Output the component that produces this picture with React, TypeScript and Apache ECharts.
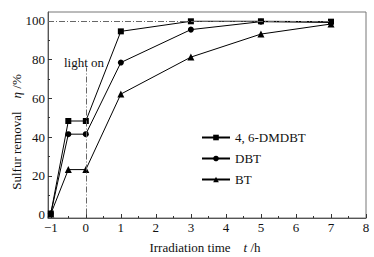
import React, { useEffect, useRef } from "react";
import * as echarts from "echarts";

const times = [-1, -0.5, 0, 1, 3, 5, 7];
const dmdbt = [0.5, 48.3, 48.3, 94.6, 99.8, 99.8, 99.6];
const dbt = [0.5, 41.5, 41.5, 78.5, 95.5, 99.6, 99.2];
const bt = [0.3, 23.2, 23.2, 62.2, 81.3, 93.2, 98.4];
const seriesNames = ["4, 6-DMDBT", "DBT", "BT"];
const xMajorTicks = [-1, 0, 1, 2, 3, 4, 5, 6, 7, 8];
const xMinorTicks = [-0.5, 0.5, 1.5, 2.5, 3.5, 4.5, 5.5, 6.5, 7.5];
const yMajorTicks = [0, 20, 40, 60, 80, 100];
const yMinorTicks = [10, 30, 50, 70, 90];

const FONT = "Liberation Serif";

export default function App() {
  const ref = useRef<HTMLDivElement>(null);
  useEffect(() => {
    if (!ref.current) return;
    const chart = echarts.init(ref.current, undefined, { renderer: "svg" });
    const pair = (vals: number[]) => times.map((t, i) => [t, vals[i]]);
    const xMin = -1.08, xMax = 8, yMin = -1.8, yMax = 104.6;
    const lineColor = "#000";
    const mkSeries = (name: string, vals: number[], symbol: string, size: number, extra: any = {}) => ({
      name,
      type: "line",
      data: pair(vals),
      symbol,
      symbolSize: size,
      showSymbol: true,
      lineStyle: { color: lineColor, width: 1 },
      itemStyle: { color: lineColor },
      ...extra,
    });
    chart.setOption({
      animation: false,
      textStyle: { fontFamily: FONT },
      grid: { left: 48, top: 12, width: 318, height: 206, show: true, borderColor: "#777", borderWidth: 1, backgroundColor: "transparent" },
      xAxis: [
        {
          type: "value", min: xMin, max: xMax,
          axisLine: { show: true, onZero: false, lineStyle: { color: "#555" } },
          axisTick: { show: true, inside: true, length: 4, customValues: xMajorTicks, lineStyle: { color: "#333" } },
          axisLabel: { customValues: xMajorTicks, color: "#111", fontSize: 13, fontFamily: FONT, margin: 3, formatter: (v: number) => (v < 0 ? "\u2212" + Math.abs(v) : String(v)) },
          splitLine: { show: false },
        },
        {
          type: "value", min: xMin, max: xMax, position: "bottom",
          axisLine: { show: false, onZero: false },
          axisTick: { show: true, inside: true, length: 2, customValues: xMinorTicks, lineStyle: { color: "#333" } },
          axisLabel: { show: false },
          splitLine: { show: false },
        },
      ],
      yAxis: [
        {
          type: "value", min: yMin, max: yMax,
          axisLine: { show: true, onZero: false, lineStyle: { color: "#555" } },
          axisTick: { show: true, inside: true, length: 4, customValues: yMajorTicks, lineStyle: { color: "#333" } },
          axisLabel: { customValues: yMajorTicks, color: "#111", fontSize: 13, fontFamily: FONT, margin: 3 },
          splitLine: { show: false },
        },
        {
          type: "value", min: yMin, max: yMax, position: "left",
          axisLine: { show: false, onZero: false },
          axisTick: { show: true, inside: true, length: 2, customValues: yMinorTicks, lineStyle: { color: "#333" } },
          axisLabel: { show: false },
          splitLine: { show: false },
        },
      ],
      legend: {
        left: 196, top: 126, orient: "vertical",
        itemWidth: 28, itemHeight: 7, itemGap: 8,
        data: seriesNames,
        textStyle: { fontFamily: FONT, fontSize: 13, color: "#111" },
      },
      series: [
        mkSeries(seriesNames[0], dmdbt, "rect", 6, {
          markLine: {
            silent: true, symbol: "none", label: { show: false },
            lineStyle: { color: "#666", type: [6, 2, 1, 2], width: 1 },
            data: [
              [{ coord: [xMin, 100] }, { coord: [7, 100] }],
              [{ coord: [0, 0] }, { coord: [0, 76] }],
            ],
          },
        }),
        mkSeries(seriesNames[1], dbt, "circle", 6),
        mkSeries(seriesNames[2], bt, "triangle", 7),
      ],
      graphic: [
        {
          type: "text", x: 84, y: 62,
          style: { text: "light on", fontFamily: FONT, fontSize: 13, fill: "#111", align: "center", verticalAlign: "middle" },
        },
        {
          type: "text", x: 16, y: 132, rotation: Math.PI / 2,
          style: {
            text: "{n|Sulfur removal}    {i|\u03b7} {n|/%}",
            align: "center", verticalAlign: "middle", fontFamily: FONT, fontSize: 13, fill: "#111",
            rich: {
              n: { fontFamily: FONT, fontSize: 13, fill: "#111" },
              i: { fontFamily: FONT, fontSize: 13, fill: "#111", fontStyle: "italic" },
            },
          },
        },
        {
          type: "text", x: 205, y: 247,
          style: {
            text: "{n|Irradiation time}    {i|t} {n|/h}",
            align: "center", verticalAlign: "middle", fontFamily: FONT, fontSize: 13, fill: "#111",
            rich: {
              n: { fontFamily: FONT, fontSize: 13, fill: "#111" },
              i: { fontFamily: FONT, fontSize: 13, fill: "#111", fontStyle: "italic" },
            },
          },
        },
      ],
    });
    return () => chart.dispose();
  }, []);
  return <div ref={ref} style={{ width: 374, height: 257, position: "absolute", left: 0, top: 0 }} />;
}
